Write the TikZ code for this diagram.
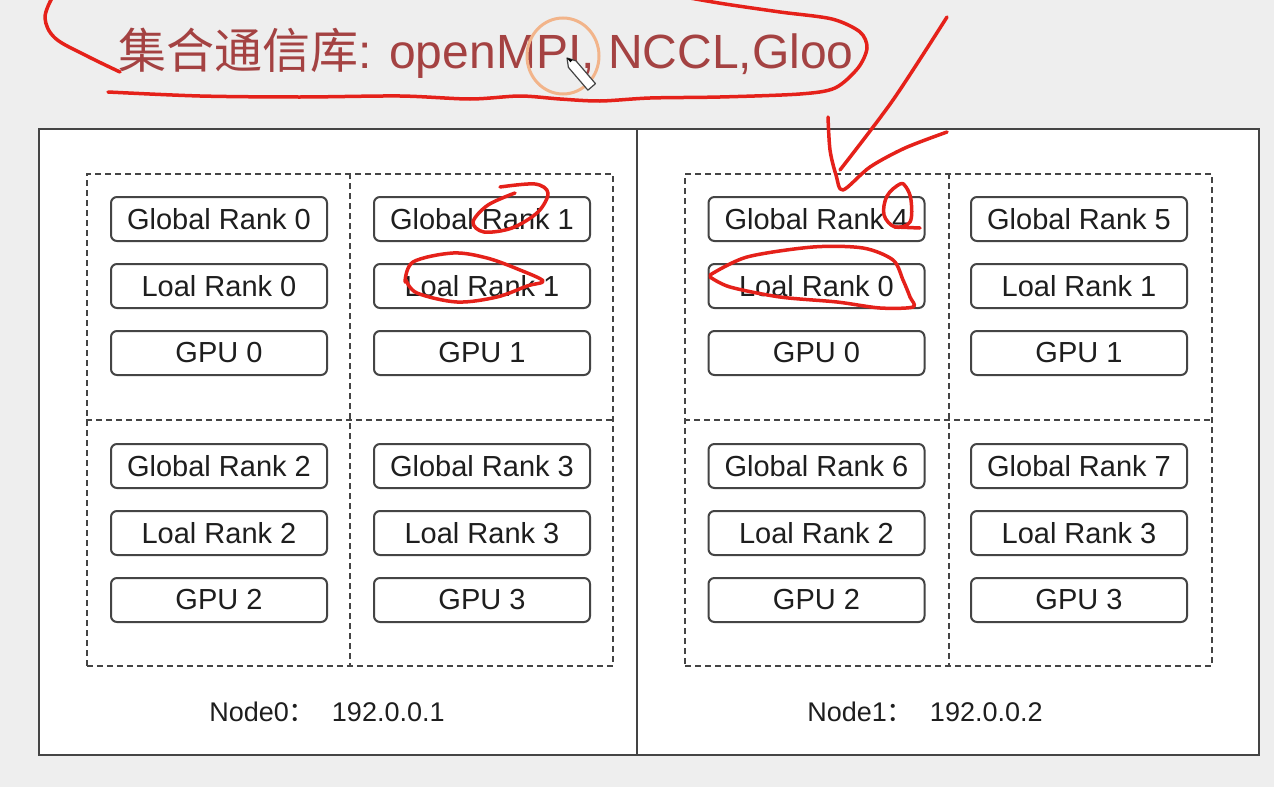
\documentclass[tikz,border=0pt]{standalone}
\usepackage{fontspec}
\setmainfont{Liberation Sans}
\newfontfamily\cjk{Noto Sans CJK SC}
\definecolor{bgc}{HTML}{EEEEEE}
\definecolor{ttl}{HTML}{A44242}
\definecolor{bd}{HTML}{444444}
\definecolor{txt}{HTML}{1E1E1E}
\definecolor{pen}{HTML}{E5211A}
\definecolor{ring}{HTML}{F2B48A}
\tikzset{
  panel/.style={draw=bd, line width=2.5pt, fill=white, inner sep=0pt, outer sep=0pt},
  frame/.style={draw=bd, line width=2pt, dash pattern=on 6pt off 4pt, inner sep=0pt},
  divline/.style={draw=bd, line width=2pt, dash pattern=on 6pt off 4pt},
  rbox/.style={draw=bd, line width=2pt, fill=white, rounded corners=6pt, minimum width=216pt, minimum height=44pt, inner sep=0pt, text=txt, font=\fontsize{29}{33}\selectfont},
  hostlbl/.style={text=txt, font=\fontsize{27}{31}\selectfont, inner sep=0pt},
  ink/.style={draw=pen, line width=3.5pt, line cap=round, line join=round}
}
\begin{document}
\begin{tikzpicture}[x=1pt,y=-1pt]
\useasboundingbox (0,0) rectangle (1274,787);
\fill[bgc] (0,0) rectangle (1274,787);
% panels
\node[panel, minimum width=598pt, minimum height=626pt] (p0) at (338,442) {};
\node[panel, minimum width=622pt, minimum height=626pt] (p1) at (948,442) {};
% dashed frames
\node[frame, minimum width=526pt, minimum height=492pt] (f0) at (350,420) {};
\node[frame, minimum width=527pt, minimum height=492pt] (f1) at (948.5,420) {};
\draw[divline] (f0.north) -- (f0.south);
\draw[divline] (f0.west) -- (f0.east);
\draw[divline] (f1.north) -- (f1.south);
\draw[divline] (f1.west) -- (f1.east);
% boxes
\foreach \gx/\gy/\gr/\lr/\nm in {219/219/0/0/a, 482/219/1/1/b, 219/466/2/2/c, 482/466/3/3/d, 816.5/219/4/0/e, 1079/219/5/1/f, 816.5/466/6/2/g, 1079/466/7/3/h} {
  \node[rbox] (glob\nm) at (\gx,\gy) {Global Rank \gr};
  \node[rbox] (loc\nm) at (\gx,\gy+67) {Loal Rank \lr};
  \node[rbox] (gpu\nm) at (\gx,\gy+134) {GPU \lr};
}
% host labels
\node[hostlbl] (h0) at (327,712) {Node0{\cjk ：}\hspace{16pt}192.0.0.1};
\node[hostlbl] (h1) at (925,712) {Node1{\cjk ：}\hspace{16pt}192.0.0.2};
% title
\node[anchor=base west, inner sep=0pt, text=ttl, font=\fontsize{48}{53}\selectfont] (title) at (118,68) {{\cjk 集合通信库}: openMPI, NCCL,Gloo};
% orange ring and cursor
\draw[ring, line width=3pt] (563,56) ellipse [x radius=36, y radius=38];
\draw[fill=white, draw=bd, line width=1.2pt, line join=round] (567,58) -- (568.4,67.35) -- (587.9,90.15) -- (595.5,83.65) -- (576,60.85) -- cycle;
\fill[black] (567,58) -- (570.4,62.3) -- (572.6,59.9) -- cycle;
% red annotations
\draw[ink] plot[smooth, tension=0.6] coordinates {(52,-2) (45,18) (55,38) (85,55) (120,72)};
\draw[ink] plot[smooth, tension=0.5] coordinates {(108,92) (200,96) (300,97) (400,96) (470,99) (520,96) (560,99) (600,101) (650,98) (720,97) (800,94) (835,88) (858,68) (867,48) (860,32) (832,19) (780,12) (725,4) (690,-2)};
\draw[ink] plot[smooth, tension=0.5] coordinates {(947,17) (893,100) (840,170)};
\draw[ink] plot[smooth, tension=0.5] coordinates {(828,117) (830,150) (836,175) (843,190) (870,167) (905,148) (947,132)};
\draw[ink] plot[smooth cycle, tension=0.6] coordinates {(900,184) (887,196) (884,215) (895,227) (910,222) (911,200) (906,187)};
\draw[ink] (895,227) -- (920,228);
\draw[ink] plot[smooth, tension=0.5] coordinates {(710,275) (747,257) (813,247) (863,248) (893,260) (903,280) (910,297) (913,307) (880,308) (837,302) (780,297) (730,287) (710,277)};
\draw[ink] plot[smooth, tension=0.55] coordinates {(500,187) (535,184) (548,193) (538,212) (512,228) (484,232) (473,222) (488,205) (515,193)};
\draw[ink] plot[smooth, tension=0.55] coordinates {(405,282) (413,262) (453,253) (487,258) (520,270) (543,281) (527,286) (497,297) (457,302) (417,293) (406,280)};
\end{tikzpicture}
\end{document}
